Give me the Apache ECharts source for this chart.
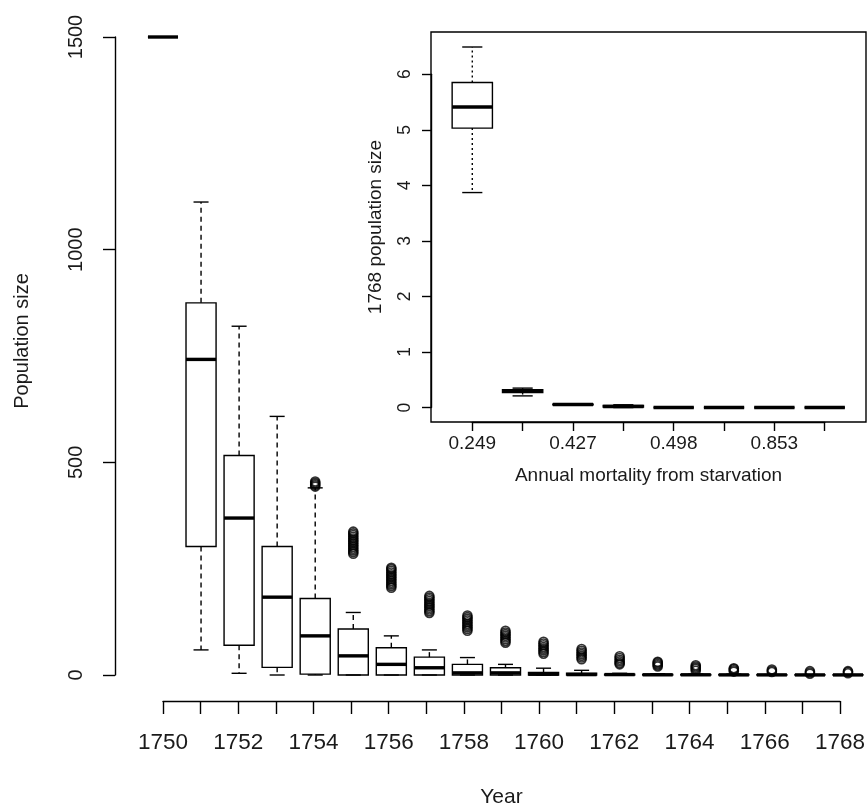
<!DOCTYPE html>
<html>
<head>
<meta charset="utf-8">
<script src="https://cdn.jsdelivr.net/npm/echarts@6/dist/echarts.min.js"></script>
<style>
html,body{margin:0;padding:0;background:#fff;}
#chart{width:868px;height:809px;}
</style>
</head>
<body>
<div id="chart"></div>
<script>
// ---------- Main plot data (population size by year) ----------
const years = [1750,1751,1752,1753,1754,1755,1756,1757,1758,1759,1760,1761,1762,1763,1764,1765,1766,1767,1768];
const whiskerLow  = [1500, 59, 4, 0, 0, 0, 0, 0, 0, 0, 0, 0, 0, 0, 0, 0, 0, 0, 0];
const q1          = [1500, 302, 70, 18, 2, 0, 0, 0, 0, 0, 0, 0, 0, 0, 0, 0, 0, 0, 0];
const median      = [1500, 742, 369, 183, 92, 45, 25, 17, 5, 5, 2, 1, 1, 0.5, 0.5, 0.3, 0.3, 0.2, 0.2];
const q3          = [1500, 875, 516, 302, 180, 108, 64, 42, 25, 17, 6, 4, 2, 1.5, 1, 1, 0.5, 0.5, 0.5];
const whiskerHigh = [1500, 1112, 820, 608, 440, 147, 92, 59, 41, 25, 16, 11, 4, 3, 2, 2, 1, 1, 1];
const outlierYears = [1754,1755,1756,1757,1758,1759,1760,1761,1762,1763,1764,1765,1766,1767,1768];
const outlierValues = [
  [443, 446, 449, 452, 455],
  [285, 289, 293, 297, 301, 305, 309, 313, 317, 321, 325, 329, 333, 337],
  [205, 209, 213, 217, 221, 225, 229, 233, 237, 241, 245, 249, 252],
  [146, 150, 154, 158, 162, 166, 170, 174, 178, 182, 186],
  [104, 108, 112, 116, 120, 124, 128, 132, 136, 140],
  [76, 80, 84, 88, 92, 96, 100, 104],
  [50, 54, 58, 62, 66, 70, 74, 78],
  [37, 41, 45, 49, 53, 57, 61],
  [25, 28, 32, 36, 40, 44],
  [20, 23, 26, 29, 31],
  [10, 14, 17, 20, 23],
  [8, 11, 14, 16],
  [7, 10, 13],
  [3, 6, 9],
  [4, 7, 9]
];
const yearTickLabels = ['1750','1752','1754','1756','1758','1760','1762','1764','1766','1768'];
const mainYTicks = [0, 500, 1000, 1500];

// ---------- Inset data (1768 population size by mortality) ----------
const insetCategories = ['0.249', '', '0.427', '', '0.498', '', '0.853', ''];
const insetLow  = [3.87, 0.21, 0.05, 0.00, 0, 0, 0, 0];
const insetQ1   = [5.03, 0.27, 0.05, 0.01, 0, 0, 0, 0];
const insetMed  = [5.41, 0.30, 0.055, 0.02, 0, 0, 0, 0];
const insetQ3   = [5.85, 0.32, 0.06, 0.04, 0, 0, 0, 0];
const insetHigh = [6.49, 0.35, 0.06, 0.05, 0, 0, 0, 0];

const FONT = 'Liberation Sans, Arial, sans-serif';
const TXT = '#1a1a1a';
const LW = 1.4;

function makeBoxRenderer(boxW, dash) {
  return function (params, api) {
    const x = api.value(0);
    const lo = api.coord([x, api.value(1)]);
    const b1 = api.coord([x, api.value(2)]);
    const md = api.coord([x, api.value(3)]);
    const b3 = api.coord([x, api.value(4)]);
    const hi = api.coord([x, api.value(5)]);
    const half = api.size([boxW, 0])[0] / 2;
    const cx = lo[0];
    const solid = { stroke: '#000', lineWidth: LW, fill: null };
    const dashed = { stroke: '#000', lineWidth: LW, lineDash: dash, fill: null };
    return {
      type: 'group',
      children: [
        { type: 'line', shape: { x1: cx, y1: b3[1], x2: cx, y2: hi[1] }, style: dashed },
        { type: 'line', shape: { x1: cx, y1: b1[1], x2: cx, y2: lo[1] }, style: dashed },
        { type: 'line', shape: { x1: cx - half / 2, y1: hi[1], x2: cx + half / 2, y2: hi[1] }, style: solid },
        { type: 'line', shape: { x1: cx - half / 2, y1: lo[1], x2: cx + half / 2, y2: lo[1] }, style: solid },
        { type: 'rect', shape: { x: cx - half, y: b3[1], width: half * 2, height: b1[1] - b3[1] }, style: { stroke: '#000', lineWidth: LW, fill: 'rgba(0,0,0,0)' } },
        { type: 'line', shape: { x1: cx - half, y1: md[1], x2: cx + half, y2: md[1] }, style: { stroke: '#000', lineWidth: 3.4 } }
      ]
    };
  };
}

const mainBoxData = years.map((y, i) => [y, whiskerLow[i], q1[i], median[i], q3[i], whiskerHigh[i]]);
const outlierData = [];
outlierYears.forEach((y, i) => outlierValues[i].forEach(v => outlierData.push([y, v])));
const insetBoxData = insetCategories.map((c, i) => [i + 1, insetLow[i], insetQ1[i], insetMed[i], insetQ3[i], insetHigh[i]]);

// inset frame geometry (R-style 4% padding)
const insetYMin = -0.26, insetYMax = 6.76, insetXMin = 0.18, insetXMax = 8.82;
const frame = { left: 431, top: 32, width: 435, height: 390 };
const yAt = v => frame.top + (insetYMax - v) / (insetYMax - insetYMin) * frame.height;
const xAt = v => frame.left + (v - insetXMin) / (insetXMax - insetXMin) * frame.width;

const chart = echarts.init(document.getElementById('chart'), null, { renderer: 'canvas' });
chart.setOption({
  animation: false,
  backgroundColor: '#fff',
  textStyle: { fontFamily: FONT, color: TXT },
  grid: [
    { left: 115, right: 0, top: 37, height: 638, show: false },
    { left: 163, width: 685, top: 691, height: 10, show: false },
    { left: frame.left, top: frame.top, width: frame.width, height: frame.height, show: true, borderColor: '#000', borderWidth: LW, backgroundColor: 'rgba(0,0,0,0)' },
    { left: frame.left, width: 10, top: yAt(6), height: yAt(0) - yAt(6), show: false },
    { left: xAt(1), width: xAt(8) - xAt(1), top: frame.top + frame.height - 10, height: 10, show: false }
  ],
  xAxis: [
    { gridIndex: 0, type: 'value', min: 1748.739, max: 1768.526, show: false },
    { gridIndex: 1, type: 'value', min: 1750, max: 1768, interval: 1, position: 'bottom',
      axisLine: { show: true, lineStyle: { color: '#000', width: LW } },
      axisTick: { show: true, length: 13, inside: false, lineStyle: { color: '#000', width: LW } },
      splitLine: { show: false },
      axisLabel: { fontSize: 22.5, color: TXT, fontFamily: FONT, margin: 30,
        formatter: v => yearTickLabels.indexOf(String(v)) >= 0 ? String(v) : '' },
      name: 'Year', nameLocation: 'middle', nameGap: 86,
      nameTextStyle: { fontSize: 21, color: TXT, fontFamily: FONT } },
    { gridIndex: 2, type: 'value', min: insetXMin, max: insetXMax, show: false },
    { gridIndex: 3, type: 'value', min: 0, max: 1, show: false },
    { gridIndex: 4, type: 'value', min: 1, max: 8, interval: 1, position: 'bottom',
      axisLine: { show: true, lineStyle: { color: '#000', width: LW } },
      axisTick: { show: true, length: 9, inside: false, lineStyle: { color: '#000', width: LW } },
      splitLine: { show: false },
      axisLabel: { fontSize: 19, color: TXT, fontFamily: FONT, margin: 12,
        formatter: v => insetCategories[v - 1] || '' },
      name: 'Annual mortality from starvation', nameLocation: 'middle', nameGap: 44,
      nameTextStyle: { fontSize: 19, color: TXT, fontFamily: FONT } }
  ],
  yAxis: [
    { gridIndex: 0, type: 'value', min: 0, max: 1500, interval: 500,
      axisLine: { show: true, lineStyle: { color: '#000', width: LW } },
      axisTick: { show: true, length: 12, inside: false, lineStyle: { color: '#000', width: LW } },
      splitLine: { show: false },
      axisLabel: { rotate: 90, fontSize: 20, color: TXT, fontFamily: FONT, margin: 29,
        formatter: v => mainYTicks.indexOf(v) >= 0 ? String(v) : '' },
      name: 'Population size', nameLocation: 'middle', nameGap: 83,
      nameTextStyle: { fontSize: 20, color: TXT, fontFamily: FONT, padding: [0, 0, 0, 30] } },
    { gridIndex: 1, type: 'value', min: 0, max: 1, show: false },
    { gridIndex: 2, type: 'value', min: insetYMin, max: insetYMax,
      axisLine: { show: false }, axisTick: { show: false }, axisLabel: { show: false }, splitLine: { show: false },
      name: '1768 population size', nameLocation: 'middle', nameGap: 46,
      nameTextStyle: { fontSize: 19, color: TXT, fontFamily: FONT } },
    { gridIndex: 3, type: 'value', min: 0, max: 6, interval: 1,
      axisLine: { show: true, lineStyle: { color: '#000', width: LW } },
      axisTick: { show: true, length: 9, inside: false, lineStyle: { color: '#000', width: LW } },
      splitLine: { show: false },
      axisLabel: { rotate: 90, fontSize: 17.5, color: TXT, fontFamily: FONT, margin: 17 } },
    { gridIndex: 4, type: 'value', min: 0, max: 1, show: false }
  ],
  series: [
    { type: 'custom', name: 'Population', xAxisIndex: 0, yAxisIndex: 0,
      renderItem: makeBoxRenderer(0.79, [5, 4]),
      encode: { x: 0, y: [1, 2, 3, 4, 5] }, data: mainBoxData, z: 3 },
    { type: 'scatter', name: 'Outliers', xAxisIndex: 0, yAxisIndex: 0, clip: false,
      symbol: 'circle', symbolSize: 9,
      itemStyle: { color: 'rgba(0,0,0,0)', borderColor: '#000', borderWidth: 1.6 },
      data: outlierData, z: 4 },
    { type: 'custom', name: 'Inset', xAxisIndex: 2, yAxisIndex: 2,
      renderItem: makeBoxRenderer(0.8, [2, 3]),
      encode: { x: 0, y: [1, 2, 3, 4, 5] }, data: insetBoxData, z: 3 }
  ]
});
</script>
</body>
</html>
